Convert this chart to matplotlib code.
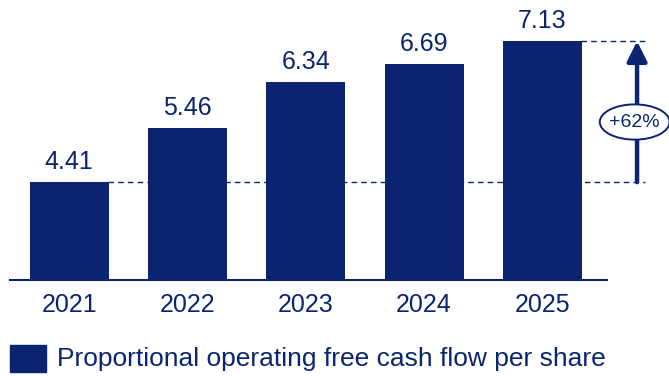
import matplotlib.pyplot as plt
from matplotlib.patches import Ellipse

plt.rcParams['font.family'] = ['Liberation Sans', 'DejaVu Sans']

years = ['2021', '2022', '2023', '2024', '2025']
values = [4.41, 5.46, 6.34, 6.69, 7.13]
growth_label = '+62%'
legend_label = 'Proportional operating free cash flow per share'

navy = '#0b2471'
x = list(range(len(years)))

fig = plt.figure(figsize=(6.69, 3.76), dpi=100)
# axes spans from x=10px to right edge, baseline at y=280px
ax = fig.add_axes([10 / 669, 96 / 376, 659 / 669, 280 / 376])
ax.set_xlim(-0.5, 5.07)
ax.set_ylim(2.52, 2.52 + 280 / 51.8)

ax.bar(x, values, width=0.667, color=navy, zorder=3)
for xi, v in zip(x, values):
    ax.text(xi, v + 0.25, f'{v:.2f}', ha='center', va='baseline',
            fontsize=18, color=navy)

# baseline
ax.plot([-0.5, 4.55], [2.52, 2.52], color=navy, lw=1.5, clip_on=False, zorder=4)

# dashed reference lines for first and last year
ax.plot([0.33, 4.87], [values[0], values[0]], color=navy, lw=1,
        ls=(0, (4, 3)), zorder=2)
ax.plot([4.33, 4.87], [values[-1], values[-1]], color=navy, lw=1,
        ls=(0, (4, 3)), zorder=2)

# growth arrow
arr_x = 4.80
ax.annotate('', xy=(arr_x, values[-1]), xytext=(arr_x, values[0]),
            arrowprops=dict(arrowstyle='-|>,head_width=0.6,head_length=1.2',
                            color=navy, lw=3.2, shrinkA=0, shrinkB=0))
ell = Ellipse((4.78, 5.57), 0.59, 0.68, facecolor='white', edgecolor=navy,
              lw=1.4, zorder=5)
ax.add_patch(ell)
ax.text(4.78, 5.57, growth_label, ha='center', va='center', fontsize=14,
        color=navy, zorder=6)

ax.set_xticks(x)
ax.set_xticklabels(years, fontsize=18, color=navy)
ax.tick_params(axis='x', length=0, pad=9)
ax.set_yticks([])
for s in ax.spines.values():
    s.set_visible(False)

# legend
fig.patches.append(plt.Rectangle((10 / 669, 4 / 376), 36 / 669, 27 / 376,
                                 transform=fig.transFigure, color=navy))
fig.text(57 / 669, 17 / 376, legend_label, fontsize=19, color=navy,
         va='center', ha='left')

fig.savefig('out.png', dpi=100)
